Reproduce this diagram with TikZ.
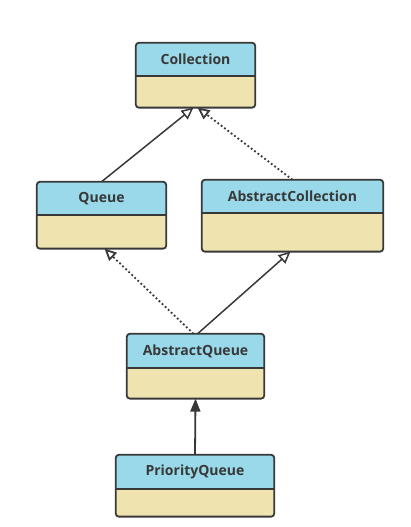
\documentclass[tikz,border=0pt]{standalone}
\usepackage{fontspec}
\setmainfont{Open Sans}
\usetikzlibrary{positioning,arrows.meta}

\definecolor{headblue}{RGB}{153,217,234}
\definecolor{bodytan}{RGB}{239,228,176}
\definecolor{edge}{RGB}{56,56,56}

\begin{document}
\begin{tikzpicture}
                [x=1pt,y=-1pt,
                head/.style={fill=headblue,inner sep=0pt,minimum height=33pt,
                        font=\bfseries\fontsize{14}{16}\selectfont,text=edge},
                body/.style={fill=bodytan,inner sep=0pt,below=0pt of #1},
                frame/.style={draw=edge,line width=1.8pt,rounded corners=3pt},
                inherit/.style={draw=edge,line width=1.5pt,
                        -{Triangle[length=12pt,width=11pt,fill=white]}},
                realize/.style={inherit,line width=1.8pt,dash pattern=on 1.8pt off 2.4pt},
                extend/.style={draw=edge,line width=1.8pt,
                        -{Triangle[length=13pt,width=10pt]}}]
                \useasboundingbox (0,0) rectangle (411,527);
                \node[head,minimum width=119pt] (coll) at (195.5,59.5) {Collection};
                \node[body=coll,minimum width=119pt,minimum height=31pt] (coll-b) {};
                \node[head,minimum width=129pt] (queue) at (101.5,198.5) {Queue};
                \node[body=queue,minimum width=129pt,minimum height=33pt] (queue-b) {};
                \node[head,minimum width=181pt] (absc) at (292.5,196.5) {AbstractCollection};
                \node[body=absc,minimum width=181pt,minimum height=38pt] (absc-b) {};
                \node[head,minimum width=137pt,minimum height=34pt] (absq) at (195.5,351) {AbstractQueue};
                \node[body=absq,minimum width=137pt,minimum height=30pt] (absq-b) {};
                \node[head,minimum width=158pt,minimum height=34pt] (prio) at (195,472) {PriorityQueue};
                \node[body=prio,minimum width=158pt,minimum height=27pt] (prio-b) {};
                \foreach \n in {coll,queue,absc,absq,prio}{
                        \draw[frame] (\n.north west) rectangle (\n-b.south east);
                        \draw[draw=edge,line width=1.8pt] (\n.south west) -- (\n.south east);
                }
                \draw[inherit] (queue.north) -- ([xshift=-2pt]coll-b.south);
                \draw[realize] (absc.north) -- ([xshift=2pt]coll-b.south);
                \draw[realize] ([xshift=-2pt]absq.north) -- ([xshift=3pt]queue-b.south);
                \draw[inherit] ([xshift=2pt]absq.north) -- ([xshift=-2pt]absc-b.south);
                \draw[extend] (prio.north) -- (absq-b.south);
\end{tikzpicture}
\end{document}
